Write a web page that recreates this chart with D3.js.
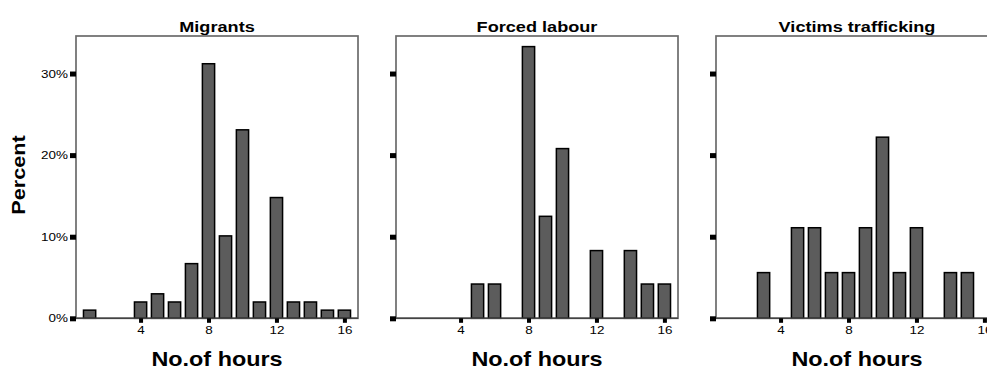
<!DOCTYPE html>
<html>
<head>
<meta charset="utf-8">
<script src="https://cdn.jsdelivr.net/npm/d3@7"></script>
<style>
  body { margin: 0; background: #fff; }
  svg { display: block; }
  text { font-family: "Liberation Sans", Arial, sans-serif; fill: #000; }
</style>
</head>
<body>
<svg id="chart" width="987" height="370"></svg>
<script>
var hours = d3.range(1, 17);
var panelTitles = ["Migrants", "Forced labour", "Victims trafficking"];
var migrants = [1.0, 0, 0, 2.0, 3.0, 2.0, 6.7, 31.2, 10.1, 23.1, 2.0, 14.8, 2.0, 2.0, 1.0, 1.0];
var forcedLabour = [0, 0, 0, 0, 4.2, 4.2, 0, 33.3, 12.5, 20.8, 0, 8.3, 0, 8.3, 4.2, 4.2];
var victims = [0, 0, 5.6, 0, 11.1, 11.1, 5.6, 5.6, 11.1, 22.2, 5.6, 11.1, 0, 5.6, 5.6, 0];
var xTicks = [4, 8, 12, 16];
var yTicks = [0, 10, 20, 30];

var series = [migrants, forcedLabour, victims];

var svg = d3.select("#chart");
var pw = 282, plotTop = 36, plotBottom = 318.3;
var lefts = [76, 396, 716];
var stretch = 1.17;

var x = d3.scaleLinear().domain([0.2, 16.8]).range([0, pw]);
var y = d3.scaleLinear().domain([0, 34.6]).range([plotBottom, plotTop]);
var barW = x(0.72) - x(0);

// horizontally widened text like the original rendering
function label(g, str, tx, ty, size, bold, anchor, rot) {
    return g.append("text")
        .attr("transform", "translate(" + tx + "," + ty + ") rotate(" + (rot || 0) + ") scale(" + stretch + ",1)")
        .attr("text-anchor", anchor || "middle")
        .style("font-size", size + "px")
        .style("font-weight", bold ? "bold" : "normal")
        .text(str);
}

series.forEach(function (vals, i) {
    var g = svg.append("g").attr("transform", "translate(" + lefts[i] + ",0)");

    // frame
    g.append("rect")
        .attr("x", 0).attr("y", plotTop)
        .attr("width", pw).attr("height", plotBottom - plotTop)
        .attr("fill", "none").attr("stroke", "#6b6b6b").attr("stroke-width", 1.7);

    // bars
    var data = hours.map(function (h, j) { return { h: h, v: vals[j] }; }).filter(function (d) { return d.v > 0; });
    g.selectAll("rect.bar").data(data).enter().append("rect")
        .attr("class", "bar")
        .attr("x", function (d) { return x(d.h) - barW / 2; })
        .attr("y", function (d) { return y(d.v); })
        .attr("width", barW)
        .attr("height", function (d) { return plotBottom - y(d.v); })
        .attr("fill", "#5c5c5c")
        .attr("stroke", "#000")
        .attr("stroke-width", 1.5);

    // baseline
    g.append("line")
        .attr("x1", 0).attr("x2", pw).attr("y1", plotBottom).attr("y2", plotBottom)
        .attr("stroke", "#444").attr("stroke-width", 1.6);

    // y axis
    var ya = g.append("g")
        .call(d3.axisLeft(y).tickValues(yTicks).tickSize(0).tickPadding(8)
            .tickFormat(function (d) { return d + "%"; }));
    ya.select(".domain").remove();
    ya.selectAll(".tick text")
        .style("font-size", "11.5px")
        .style("font-family", "'Liberation Sans', Arial, sans-serif")
        .attr("fill", "#111")
        .attr("transform", "translate(-8,0) scale(" + stretch + ",1) translate(8,0)");
    if (i > 0) ya.selectAll(".tick text").remove();
    ya.selectAll(".tick").append("rect")
        .attr("x", -6).attr("y", -2.5).attr("width", 6).attr("height", 5).attr("fill", "#000");

    // x axis
    var xa = g.append("g").attr("transform", "translate(0," + plotBottom + ")")
        .call(d3.axisBottom(x).tickValues(xTicks).tickSize(0).tickPadding(8));
    xa.select(".domain").remove();
    xa.selectAll(".tick text")
        .style("font-size", "11.5px")
        .style("font-family", "'Liberation Sans', Arial, sans-serif")
        .attr("fill", "#111")
        .attr("transform", "scale(" + stretch + ",1)");
    xa.selectAll(".tick").append("rect")
        .attr("x", -2).attr("y", 0).attr("width", 4).attr("height", 4.5).attr("fill", "#000");

    // titles
    label(g, panelTitles[i], pw / 2, 32, 15.5, true);
    label(g, "No.of hours", pw / 2, 366, 20, true);
});

label(svg, "Percent", 25, 175, 18.5, true, "middle", -90);
</script>
</body>
</html>
